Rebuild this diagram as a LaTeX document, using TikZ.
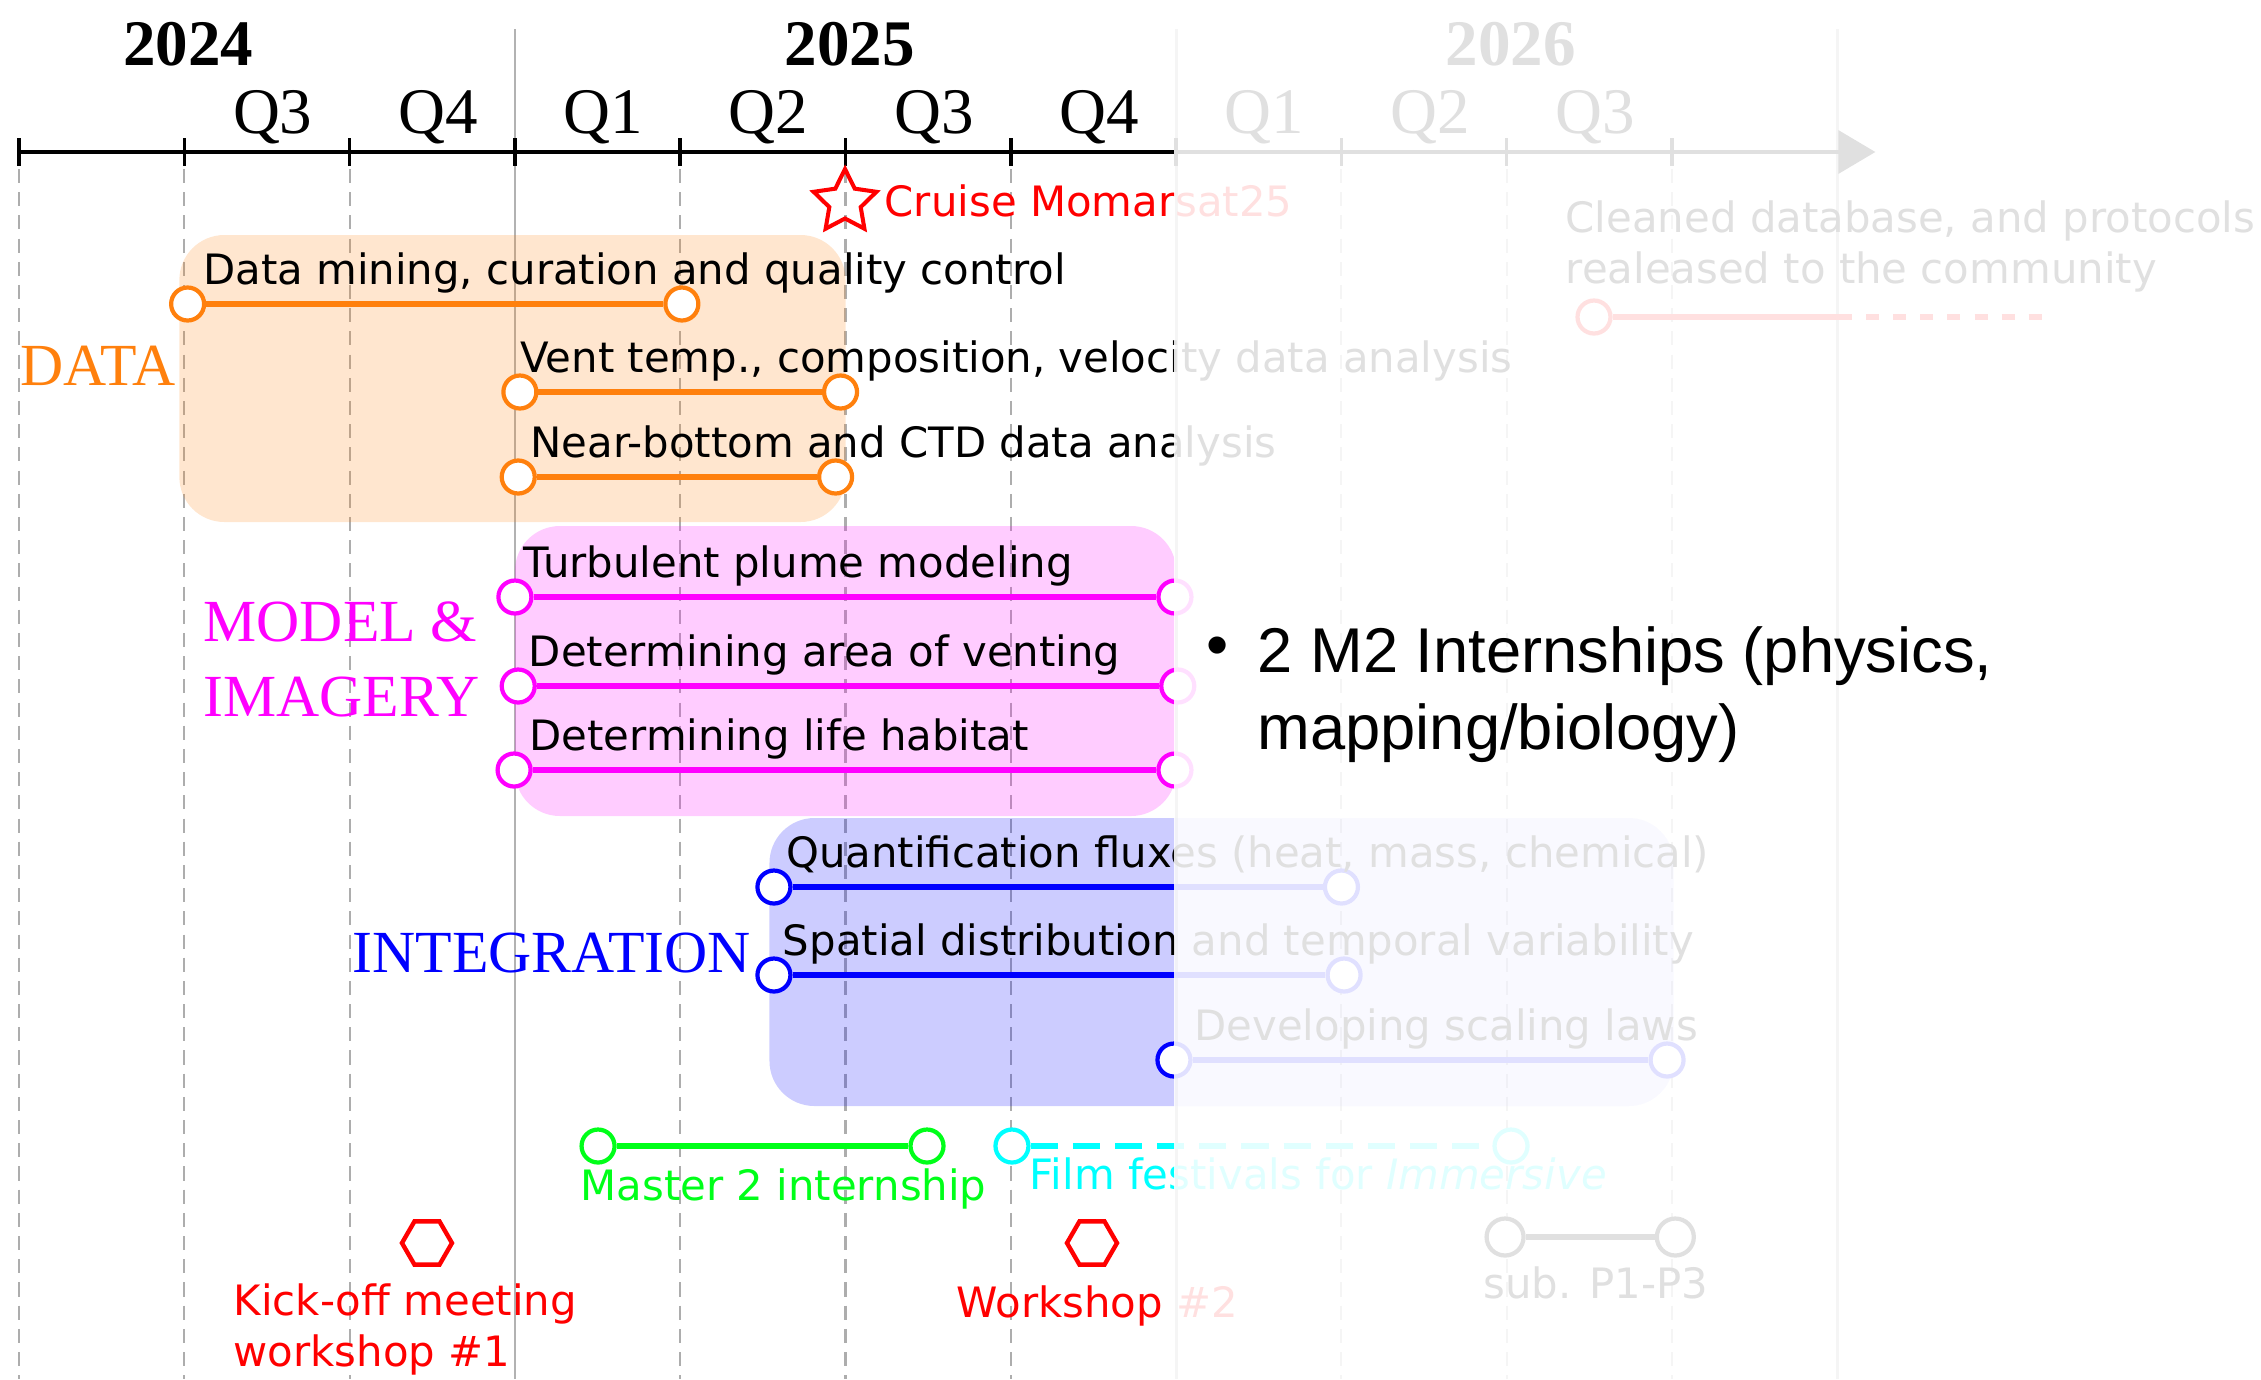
\documentclass[tikz,border=0pt]{standalone}
\usepackage{fontspec}
\setmainfont{Liberation Serif}
\newfontfamily\taskfont{DejaVu Sans}
\newfontfamily\notefont{Liberation Sans}
\usetikzlibrary{positioning,arrows.meta,calc,shapes.geometric}
\definecolor{dorange}{rgb}{1,0.5,0.05}
\definecolor{dmagenta}{rgb}{1,0,1}
\definecolor{dblue}{rgb}{0,0,1}
\definecolor{dcyan}{rgb}{0,1,1}
\definecolor{dgreen}{rgb}{0,1,0.1}
\definecolor{dred}{rgb}{1,0,0}

\begin{document}
\begin{tikzpicture}[x=1.653cm, y=1cm,
  qlbl/.style={font=\fontsize{18.5}{20}\selectfont, anchor=base, inner sep=0},
  yrlbl/.style={qlbl, font=\fontsize{18.5}{20}\selectfont\bfseries},
  grplbl/.style={font=\fontsize{17}{21.3}\selectfont, anchor=base west, align=left, inner sep=0},
  task/.style={font=\taskfont\fontsize{11.9}{14.5}\selectfont, anchor=base west, align=left, inner sep=0},
  endpt/.style={circle, draw, fill=white, line width=1.2pt, minimum size=0.33cm, inner sep=0},
  bar/.style={line width=1.7pt},
  zone/.style={rounded corners=0.45cm, fill opacity=0.2},
  gridln/.style={black!32, line width=0.6pt, dash pattern=on 4pt off 2.6pt},
  yearln/.style={black!30, line width=0.8pt},
  event/.style={regular polygon, regular polygon sides=6, draw=dred, line width=1.25pt, minimum size=0.5cm, inner sep=0}]
  \useasboundingbox (-0.115,1.52) rectangle (13.563,-12.27);

  % grille trimestres
  \foreach \k in {0,1,2,4,5,6,8,9,10}
    \draw[gridln] (\k,-0.17) -- (\k,-12.27);
  \foreach \k in {3,7,11}
    \draw[yearln] (\k,1.23) -- (\k,-12.27);

  % zones
  \fill[zone, dorange] (0.97,-0.83) rectangle (5.0,-3.70);
  \fill[zone, dmagenta] (3.0,-3.74) rectangle (7.0,-6.64);
  \fill[zone, dblue] (4.54,-6.66) rectangle (10.01,-9.54);

  % axe du temps
  \draw[line width=1pt, -{Triangle[length=0.37cm, width=0.43cm]}] (0,0) -- (11.23,0);
  \foreach \k in {0,...,10}
    \draw[line width=1pt] (\k,0.14) -- (\k,-0.14);
  \foreach \k/\q in {1/Q3, 2/Q4, 3/Q1, 4/Q2, 5/Q3, 6/Q4, 7/Q1, 8/Q2, 9/Q3}
    \node[qlbl] (q\k) at (\k+0.535,0.19) {\q};
  \foreach \k/\yr in {1/2024, 5/2025, 9/2026}
    \node[yrlbl] (y\yr) at (\k+0.025,0.87) {\yr};

  % titres des zones
  \node[grplbl, text=dorange] (data) at (0.006,-2.33) {DATA};
  \node[grplbl, text=dmagenta] (model) at (1.113,-5.64) {MODEL \&\\IMAGERY};
  \node[grplbl, text=dblue] (integ) at (2.015,-8.20) {INTEGRATION};

  % taches DATA
  \foreach \nm/\xa/\xb/\yy/\dx/\txt in {
      d1/1.02/4.01/-1.52/0.09/{Data mining, curation and quality control},
      d2/3.03/4.97/-2.40/0/{Vent temp., composition, velocity data analysis},
      d3/3.02/4.94/-3.25/0.07/{Near-bottom and CTD data analysis}}{
    \node[endpt, draw=dorange] (\nm-a) at (\xa,\yy) {};
    \node[endpt, draw=dorange] (\nm-b) at (\xb,\yy) {};
    \draw[bar, dorange] (\nm-a) -- (\nm-b);
    \node[task] (\nm-t) at ($(\nm-a)+(\dx,0.2)$) {\txt};
  }
  % taches MODEL & IMAGERY
  \foreach \nm/\xa/\xb/\yy/\dx/\txt in {
      m1/3.0/6.993/-4.45/0.05/{Turbulent plume modeling},
      m2/3.02/7.01/-5.34/0.06/{Determining area of venting},
      m3/2.995/6.993/-6.18/0.09/{Determining life habitat}}{
    \node[endpt, draw=dmagenta] (\nm-a) at (\xa,\yy) {};
    \node[endpt, draw=dmagenta] (\nm-b) at (\xb,\yy) {};
    \draw[bar, dmagenta] (\nm-a) -- (\nm-b);
    \node[task] (\nm-t) at ($(\nm-a)+(\dx,0.2)$) {\txt};
  }
  % taches INTEGRATION
  \foreach \nm/\xa/\xb/\yy/\dx/\txt in {
      i1/4.567/8.0/-7.35/0.07/{Quantification fluxes (heat, mass, chemical)},
      i2/4.567/8.016/-8.23/0.05/{Spatial distribution and temporal variability},
      i3/6.987/9.97/-9.08/0.12/{Developing scaling laws}}{
    \node[endpt, draw=dblue] (\nm-a) at (\xa,\yy) {};
    \node[endpt, draw=dblue] (\nm-b) at (\xb,\yy) {};
    \draw[bar, dblue] (\nm-a) -- (\nm-b);
    \node[task] (\nm-t) at ($(\nm-a)+(\dx,0.2)$) {\txt};
  }

  % croisiere
  \node[star, star points=5, star point ratio=2, draw=dred, line width=1.15pt, minimum size=0.66cm, inner sep=0] (cruise) at (4.997,-0.50) {};
  \node[task, text=dred] (cruiselbl) at (5.233,-0.64) {Cruise Momarsat25};

  % livrable base de donnees
  \node[task] (clean) at (9.353,-1.31) {Cleaned database, and protocols\\realeased to the community};
  \node[endpt, draw=dred] (db-a) at (9.528,-1.65) {};
  \coordinate (db-m) at (11.09,-1.65);
  \coordinate (db-e) at (12.24,-1.65);
  \draw[bar, dred] (db-a) -- (db-m);
  \draw[bar, dred, dash pattern=on 3.7pt off 4pt, dash phase=3.7pt] (db-m) -- (db-e);

  % stage et films
  \node[endpt, draw=dgreen] (mst-a) at (3.503,-9.94) {};
  \node[endpt, draw=dgreen] (mst-b) at (5.493,-9.94) {};
  \draw[bar, dgreen] (mst-a) -- (mst-b);
  \node[task, text=dgreen] (mstlbl) at (3.394,-10.48) {Master 2 internship};
  \node[endpt, draw=dcyan] (film-a) at (6.007,-9.94) {};
  \node[endpt, draw=dcyan] (film-b) at (9.026,-9.94) {};
  \draw[bar, dcyan, dash pattern=on 7.7pt off 4.3pt] (film-a) -- (film-b);
  \node[task, text=dcyan] (filmlbl) at (6.11,-10.37) {Film festivals for \textit{Immersive}};

  % reunions
  \node[event] (kick) at (2.468,-10.91) {};
  \node[event] (ws2) at (6.491,-10.91) {};
  \node[task, text=dred] (kicklbl) at (1.295,-12.14) {Kick-off meeting\\workshop \#1};
  \node[task, text=dred] (ws2lbl) at (5.668,-11.65) {Workshop \#2};

  % soumission
  \node[endpt, draw=black, minimum size=0.37cm] (sub-a) at (8.99,-10.85) {};
  \node[endpt, draw=black, minimum size=0.37cm] (sub-b) at (10.02,-10.85) {};
  \draw[bar, black] (sub-a) -- (sub-b);
  \node[task, anchor=base] (sublbl) at (9.54,-11.46) {sub. P1-P3};

  % partie future estompee
  \fill[white, opacity=0.88] (6.985,1.52) rectangle (13.563,-12.27);

  % stages M2
  \node[font=\notefont\fontsize{18}{21.9}\selectfont, anchor=base west, align=left, inner sep=0] (intern) at (7.489,-5.97) {2 M2 Internships (physics,\\mapping/biology)};
  \node[font=\notefont\fontsize{18}{21.9}\selectfont, inner sep=0] (bul) at (7.253,-5.00) {\textbullet};
\end{tikzpicture}
\end{document}
